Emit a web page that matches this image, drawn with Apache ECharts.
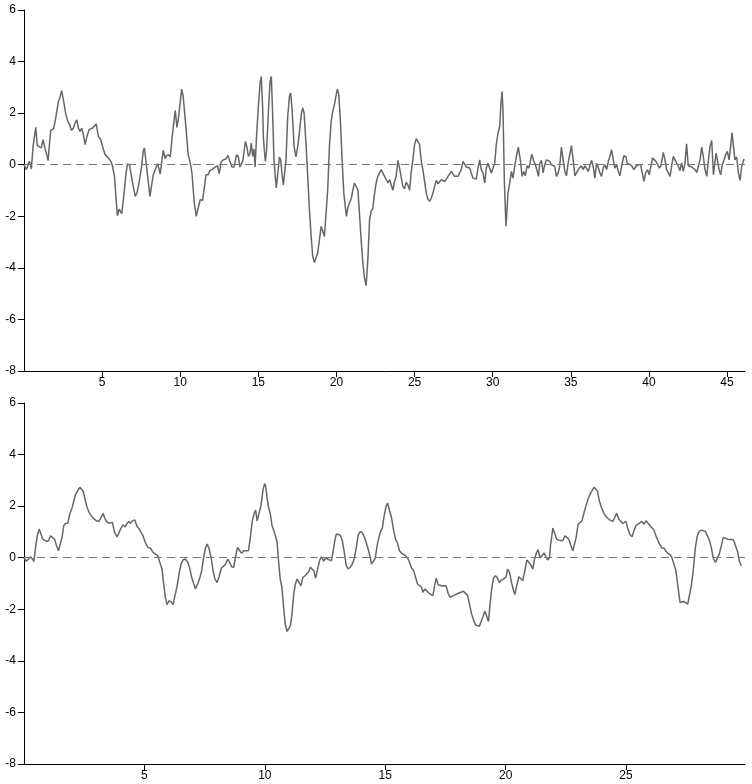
<!DOCTYPE html>
<html><head><meta charset="utf-8">
<script src="https://cdn.jsdelivr.net/npm/echarts@6/dist/echarts.min.js"></script>
<style>html,body{margin:0;padding:0;background:#fff}#c{width:752px;height:784px}</style>
</head><body><div id="c"></div>
<script>
const topX = [0.00,0.15,0.28,0.36,0.47,0.58,0.75,0.85,0.96,1.11,1.22,1.35,1.43,1.54,1.71,1.82,1.90,2.03,2.20,2.29,2.41,2.52,2.67,2.80,2.93,3.03,3.16,3.27,3.38,3.48,3.59,3.70,3.80,3.91,4.04,4.17,4.27,4.38,4.49,4.62,4.76,4.91,5.06,5.19,5.30,5.41,5.56,5.66,5.79,5.88,5.98,6.09,6.17,6.26,6.43,6.52,6.62,6.75,6.88,7.01,7.12,7.24,7.37,7.50,7.63,7.71,7.84,8.06,8.27,8.38,8.55,8.72,8.91,9.04,9.12,9.25,9.36,9.51,9.68,9.79,9.89,10.09,10.19,10.36,10.51,10.62,10.75,10.90,11.03,11.15,11.28,11.43,11.65,11.79,11.90,12.07,12.24,12.39,12.50,12.61,12.71,12.82,12.93,13.06,13.18,13.31,13.44,13.61,13.72,13.82,14.00,14.17,14.27,14.36,14.47,14.55,14.64,14.72,14.79,14.89,15.00,15.11,15.19,15.28,15.32,15.38,15.45,15.53,15.66,15.75,15.83,15.92,16.00,16.09,16.15,16.26,16.35,16.43,16.52,16.60,16.69,16.77,16.88,16.99,17.07,17.16,17.29,17.41,17.54,17.63,17.76,17.84,17.93,18.06,18.16,18.27,18.38,18.48,18.59,18.70,18.80,18.91,19.02,19.12,19.23,19.34,19.44,19.55,19.66,19.76,19.87,19.98,20.06,20.15,20.26,20.36,20.47,20.56,20.64,20.72,20.83,20.96,21.05,21.15,21.26,21.37,21.47,21.58,21.69,21.79,21.90,22.01,22.12,22.22,22.33,22.44,22.54,22.65,22.76,22.86,22.97,23.08,23.18,23.29,23.40,23.48,23.61,23.72,23.82,23.93,24.04,24.15,24.25,24.36,24.46,24.57,24.68,24.79,24.89,25.00,25.11,25.21,25.32,25.43,25.53,25.64,25.75,25.85,25.96,26.07,26.18,26.28,26.39,26.50,26.60,26.71,26.82,26.92,27.03,27.14,27.24,27.35,27.46,27.56,27.67,27.78,27.88,27.99,28.10,28.21,28.31,28.42,28.53,28.63,28.74,28.85,28.95,29.06,29.17,29.27,29.38,29.49,29.59,29.70,29.81,29.91,30.02,30.13,30.23,30.34,30.45,30.53,30.60,30.66,30.75,30.85,30.98,31.09,31.20,31.30,31.41,31.52,31.64,31.77,31.88,31.99,32.09,32.20,32.31,32.39,32.50,32.63,32.74,32.84,32.93,33.01,33.12,33.23,33.33,33.44,33.55,33.65,33.76,33.87,33.97,34.08,34.19,34.29,34.40,34.51,34.62,34.72,34.83,34.94,35.04,35.15,35.26,35.36,35.47,35.58,35.68,35.79,35.90,36.00,36.11,36.22,36.33,36.43,36.54,36.65,36.75,36.86,36.97,37.07,37.18,37.29,37.40,37.50,37.61,37.72,37.82,37.93,38.04,38.14,38.25,38.40,38.53,38.61,38.74,38.89,39.04,39.17,39.32,39.47,39.57,39.68,39.79,39.91,40.02,40.13,40.23,40.34,40.45,40.56,40.66,40.77,40.92,41.03,41.13,41.24,41.35,41.45,41.56,41.67,41.77,41.88,41.99,42.09,42.20,42.31,42.41,42.52,42.63,42.74,42.84,42.95,43.06,43.16,43.27,43.38,43.48,43.59,43.70,43.81,43.91,44.02,44.13,44.21,44.30,44.38,44.49,44.59,44.70,44.81,44.91,45.02,45.13,45.23,45.32,45.41,45.51,45.62,45.73,45.83,45.94,46.09];
const topY = [0.00,-0.19,0.04,0.13,-0.17,0.71,1.45,0.74,0.67,0.65,0.97,0.61,0.45,0.16,1.33,1.40,1.40,1.81,2.45,2.58,2.87,2.52,1.98,1.68,1.55,1.33,1.42,1.61,1.74,1.42,1.29,1.42,1.16,0.78,1.12,1.36,1.33,1.42,1.40,1.58,1.10,0.97,0.65,0.39,0.36,0.26,0.13,-0.04,-0.45,-1.23,-1.98,-1.72,-1.81,-1.90,-0.97,-0.39,0.03,0.00,-0.45,-0.90,-1.23,-1.07,-0.68,-0.19,0.52,0.65,-0.06,-1.23,-0.39,-0.39,0.04,-0.36,0.56,0.23,0.35,0.39,0.30,1.23,2.11,1.45,1.81,2.93,2.65,1.49,0.39,0.13,-0.32,-1.49,-2.00,-1.68,-1.36,-1.38,-0.39,-0.39,-0.23,-0.17,-0.09,-0.04,-0.35,0.09,0.17,0.23,0.23,0.36,0.13,-0.09,-0.09,0.39,0.30,-0.09,0.13,0.90,0.68,0.32,0.45,0.84,0.32,0.61,-0.09,1.16,2.26,3.17,3.42,2.13,1.10,0.58,0.13,0.58,2.26,3.23,3.42,1.87,0.19,-0.52,-0.90,-0.26,0.30,0.19,-0.39,-0.78,-0.84,0.19,1.87,2.65,2.78,2.13,0.71,0.30,0.78,0.84,2.00,2.20,2.00,0.71,-0.45,-1.74,-2.78,-3.55,-3.79,-3.75,-3.42,-2.91,-2.39,-2.35,-2.78,-2.84,-0.97,0.71,1.68,2.07,2.33,2.71,2.93,2.71,1.61,0.19,-1.10,-1.61,-2.00,-1.68,-1.49,-1.29,-0.97,-0.71,-0.65,-0.97,-1.87,-2.91,-3.81,-4.39,-4.69,-3.68,-2.13,-1.81,-1.68,-1.10,-0.71,-0.45,-0.32,-0.19,-0.22,-0.45,-0.52,-0.71,-0.58,-0.58,-0.99,-0.65,-0.45,0.17,-0.13,-0.19,-0.84,-0.94,-0.68,-0.78,-0.99,-0.26,0.19,0.78,1.01,0.97,0.78,0.13,-0.19,-0.65,-1.10,-1.33,-1.42,-1.29,-1.10,-0.84,-0.61,-0.74,-0.74,-0.58,-0.61,-0.65,-0.58,-0.45,-0.39,-0.26,-0.22,-0.45,-0.48,-0.45,-0.39,-0.19,0.13,0.19,-0.09,-0.04,-0.13,-0.32,-0.52,-0.45,-0.56,-0.13,0.19,-0.19,-0.32,-0.71,-0.13,0.06,0.13,-0.32,-0.32,0.06,0.78,1.23,1.49,2.39,2.84,2.13,-0.71,-2.39,-1.10,-0.71,-0.26,-0.52,-0.06,0.32,0.68,0.19,-0.45,-0.26,-0.43,-0.04,-0.13,0.06,0.41,0.13,0.00,-0.06,-0.45,0.04,0.17,-0.32,0.00,0.19,0.22,0.13,0.00,-0.04,-0.06,-0.45,-0.32,-0.06,0.68,0.19,-0.26,-0.43,0.06,0.06,0.74,0.19,-0.43,-0.39,-0.19,-0.13,-0.04,-0.19,-0.04,-0.06,-0.26,-0.30,0.17,-0.06,-0.52,0.06,-0.09,-0.32,-0.45,-0.13,0.00,-0.19,0.13,0.32,0.58,0.19,-0.13,0.00,-0.26,-0.43,-0.06,0.35,0.30,0.04,0.03,-0.04,-0.19,-0.06,0.00,0.00,-0.32,-0.65,-0.32,-0.19,-0.39,-0.39,0.26,0.19,0.13,0.00,-0.13,-0.04,0.48,0.19,-0.19,-0.32,-0.45,-0.06,0.32,0.19,0.26,-0.06,-0.23,0.06,-0.26,0.06,0.81,-0.04,-0.06,-0.09,-0.13,-0.19,-0.30,-0.26,0.19,0.68,0.32,-0.19,-0.45,0.19,0.71,0.94,-0.39,-0.45,0.45,0.19,-0.19,-0.39,0.00,0.19,0.39,0.52,0.19,0.71,1.25,0.71,0.19,0.30,-0.32,-0.61,-0.06,0.22];
const bottomX = [0.00,0.10,0.19,0.27,0.35,0.41,0.48,0.55,0.63,0.71,0.78,0.85,0.93,1.02,1.10,1.18,1.27,1.35,1.43,1.51,1.58,1.65,1.72,1.82,1.90,2.00,2.07,2.15,2.23,2.32,2.39,2.46,2.55,2.62,2.70,2.79,2.90,3.01,3.11,3.20,3.29,3.35,3.42,3.51,3.59,3.67,3.76,3.87,3.95,4.03,4.11,4.20,4.28,4.35,4.42,4.50,4.60,4.70,4.79,4.94,5.04,5.14,5.25,5.36,5.46,5.55,5.64,5.73,5.80,5.87,5.94,6.02,6.11,6.19,6.27,6.36,6.44,6.52,6.60,6.70,6.80,6.88,6.96,7.05,7.12,7.21,7.30,7.38,7.46,7.53,7.60,7.68,7.77,7.85,7.93,8.02,8.10,8.20,8.26,8.36,8.46,8.54,8.62,8.71,8.79,8.87,8.96,9.04,9.12,9.20,9.32,9.40,9.48,9.56,9.62,9.68,9.76,9.84,9.92,9.99,10.04,10.09,10.16,10.23,10.30,10.37,10.44,10.51,10.57,10.64,10.71,10.78,10.85,10.92,10.98,11.06,11.13,11.20,11.27,11.34,11.42,11.50,11.58,11.67,11.75,11.83,11.89,11.96,12.03,12.11,12.19,12.28,12.36,12.44,12.52,12.61,12.69,12.76,12.83,12.91,12.97,13.05,13.13,13.22,13.30,13.38,13.46,13.55,13.63,13.71,13.80,13.88,13.96,14.05,14.13,14.21,14.29,14.38,14.43,14.52,14.59,14.65,14.72,14.79,14.88,14.96,15.04,15.10,15.18,15.26,15.35,15.43,15.51,15.59,15.68,15.76,15.84,15.93,16.01,16.09,16.18,16.26,16.34,16.42,16.51,16.56,16.65,16.73,16.81,16.89,16.98,17.05,17.12,17.20,17.28,17.37,17.45,17.53,17.61,17.70,17.78,17.86,17.97,18.06,18.14,18.25,18.33,18.42,18.50,18.58,18.67,18.75,18.83,18.91,18.97,19.05,19.14,19.22,19.29,19.36,19.43,19.50,19.58,19.66,19.74,19.82,19.91,20.02,20.08,20.16,20.26,20.33,20.38,20.46,20.55,20.63,20.71,20.80,20.88,20.96,21.04,21.13,21.21,21.29,21.35,21.43,21.51,21.60,21.67,21.74,21.82,21.87,21.96,22.04,22.12,22.21,22.29,22.37,22.46,22.54,22.62,22.70,22.79,22.87,22.93,23.01,23.09,23.17,23.26,23.34,23.42,23.51,23.59,23.67,23.74,23.81,23.89,23.98,24.06,24.14,24.23,24.34,24.45,24.53,24.61,24.70,24.78,24.86,24.92,25.00,25.08,25.17,25.25,25.33,25.41,25.50,25.58,25.66,25.75,25.83,25.91,26.00,26.08,26.16,26.24,26.33,26.41,26.49,26.58,26.66,26.74,26.83,26.91,26.99,27.07,27.16,27.24,27.32,27.41,27.49,27.56,27.63,27.71,27.79,27.88,27.96,28.04,28.13,28.21,28.29,28.38,28.46,28.54,28.62,28.71,28.79,28.87,28.96,29.04,29.12,29.21,29.29,29.37,29.46,29.54,29.64,29.70,29.79];
const bottomY = [0.00,-0.14,-0.05,0.04,-0.05,-0.14,0.40,0.85,1.11,1.05,0.72,0.66,0.63,0.66,0.85,0.89,0.72,0.47,0.27,0.23,0.79,1.24,1.33,1.34,1.69,1.95,2.21,2.47,2.60,2.73,2.76,2.57,2.21,1.95,1.76,1.63,1.52,1.43,1.41,1.56,1.72,1.54,1.41,1.34,1.28,1.37,0.98,0.81,0.98,1.15,1.27,1.20,1.33,1.41,1.33,1.43,1.46,1.20,1.11,0.85,0.59,0.40,0.37,0.21,0.14,0.08,-0.18,-0.44,-1.02,-1.54,-1.82,-1.67,-1.71,-1.82,-1.47,-1.09,-0.63,-0.25,-0.09,-0.05,-0.18,-0.40,-0.76,-1.02,-1.21,-1.02,-0.79,-0.50,0.01,0.37,0.53,0.37,0.01,-0.50,-0.83,-0.96,-0.74,-0.40,-0.44,-0.27,-0.05,-0.18,-0.35,-0.37,0.08,0.40,0.27,0.17,0.27,0.34,0.27,0.79,1.43,1.72,1.85,1.43,1.46,2.02,2.60,2.88,2.75,2.34,1.95,1.69,1.24,1.07,0.85,0.59,-0.12,-0.83,-1.15,-1.93,-2.57,-2.86,-2.92,-2.64,-2.18,-1.41,-1.02,-0.83,-0.87,-1.09,-0.76,-0.70,-0.63,-0.53,-0.37,-0.31,-0.50,-0.79,-0.44,-0.09,0.04,-0.14,-0.01,-0.05,-0.01,-0.12,0.21,0.68,0.92,0.89,0.88,0.66,0.21,-0.31,-0.43,-0.37,-0.25,-0.05,0.40,0.88,1.01,0.97,0.81,0.59,0.34,0.01,-0.25,-0.12,-0.01,0.40,0.72,0.98,1.15,1.65,2.00,2.12,1.82,1.56,1.05,0.72,0.56,0.27,0.17,0.14,0.08,-0.01,-0.18,-0.40,-0.50,-0.76,-1.02,-1.09,-1.15,-1.34,-1.21,-1.28,-1.37,-1.43,-1.47,-1.09,-0.79,-1.05,-1.09,-1.10,-1.09,-1.09,-1.38,-1.54,-1.50,-1.45,-1.41,-1.37,-1.33,-1.30,-1.34,-1.47,-1.80,-2.16,-2.42,-2.61,-2.67,-2.66,-2.64,-2.31,-2.08,-2.12,-2.47,-1.73,-1.15,-0.79,-0.70,-0.79,-0.96,-0.87,-0.83,-0.74,-0.44,-0.57,-1.02,-1.28,-1.43,-1.09,-0.74,-0.79,-0.89,-0.50,-0.09,-0.14,-0.27,-0.44,-0.01,0.21,0.31,-0.01,0.08,0.18,0.12,-0.09,-0.01,0.53,1.15,1.11,0.72,0.68,0.63,0.66,0.85,0.88,0.72,0.50,0.27,0.23,0.79,1.30,1.37,1.43,1.76,2.02,2.27,2.47,2.60,2.73,2.76,2.60,2.21,1.95,1.76,1.63,1.54,1.46,1.41,1.56,1.72,1.50,1.41,1.33,1.30,1.41,1.11,0.89,0.81,1.05,1.24,1.30,1.24,1.41,1.30,1.43,1.46,1.24,1.18,1.07,0.85,0.66,0.50,0.37,0.37,0.25,0.17,0.12,-0.01,-0.25,-0.50,-1.15,-1.73,-1.67,-1.70,-1.73,-1.80,-1.47,-1.09,-0.50,0.40,0.85,1.02,1.07,1.07,1.02,0.85,0.68,0.40,-0.01,-0.18,-0.12,0.14,0.47,0.79,0.85,0.72,0.72,0.71,0.70,0.66,0.21,-0.12,-0.31];
const yTicks = [-8, -6, -4, -2, 0, 2, 4, 6];
const topXTicks = [5, 10, 15, 20, 25, 30, 35, 40, 45];
const bottomXTicks = [5, 10, 15, 20, 25];
const baseline = 0;

function zip(xs, ys) { return xs.map((x, i) => [x, ys[i]]); }

const axisColor = '#000';
const labelStyle = { color: '#000', fontSize: 12, fontFamily: 'Liberation Sans, Arial, sans-serif' };

function xAxisCfg(gi, max, ticks) {
  return {
    type: 'value', gridIndex: gi, min: 0, max: max,
    splitLine: { show: false },
    axisLine: { show: true, onZero: false, lineStyle: { color: axisColor, width: 1 } },
    axisTick: { show: true, customValues: ticks, length: 6, inside: false, lineStyle: { color: axisColor } },
    axisLabel: Object.assign({ customValues: ticks, margin: 6 }, labelStyle)
  };
}
function yAxisCfg(gi) {
  return {
    type: 'value', gridIndex: gi, min: -8, max: 6, interval: 2,
    splitLine: { show: false },
    axisLine: { show: true, onZero: false, lineStyle: { color: axisColor, width: 1 } },
    axisTick: { show: true, customValues: yTicks, length: 6, lineStyle: { color: axisColor } },
    axisLabel: Object.assign({ customValues: yTicks, margin: 8 }, labelStyle)
  };
}
function lineSeries(idx, xs, ys) {
  return {
    type: 'line', xAxisIndex: idx, yAxisIndex: idx, data: zip(xs, ys),
    showSymbol: false, symbol: 'none', smooth: false,
    lineStyle: { color: '#666', width: 1.5 },
    markLine: {
      silent: true, symbol: 'none', animation: false,
      label: { show: false },
      lineStyle: { type: [8, 5], color: '#777', width: 1.2 },
      data: [{ yAxis: baseline }]
    }
  };
}

const chart = echarts.init(document.getElementById('c'), null, { renderer: 'canvas' });
chart.setOption({
  animation: false,
  backgroundColor: '#fff',
  grid: [
    { left: 24, top: 10, width: 721, height: 361 },
    { left: 24, top: 403, width: 721, height: 361 }
  ],
  xAxis: [xAxisCfg(0, 46.15, topXTicks), xAxisCfg(1, 29.94, bottomXTicks)],
  yAxis: [yAxisCfg(0), yAxisCfg(1)],
  series: [lineSeries(0, topX, topY), lineSeries(1, bottomX, bottomY)]
});
</script>
</body></html>
